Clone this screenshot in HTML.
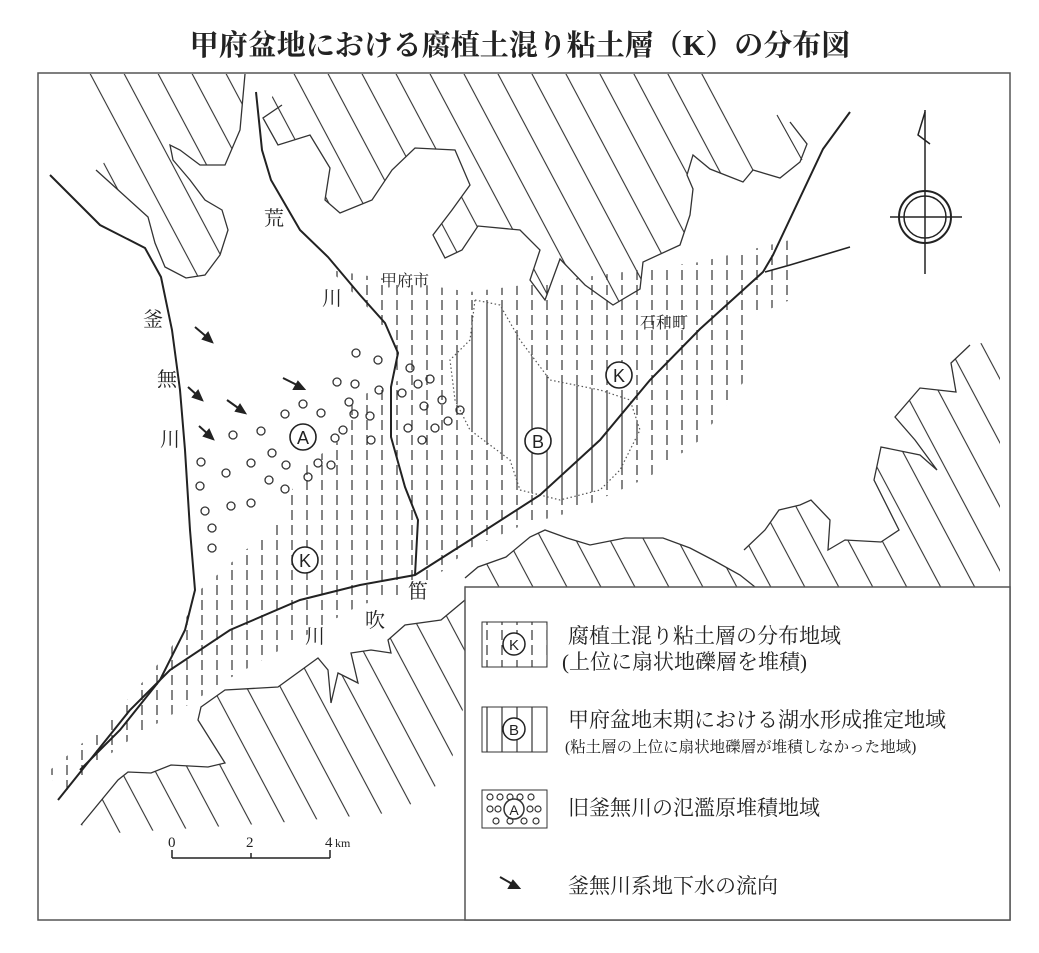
<!DOCTYPE html>
<html><head><meta charset="utf-8"><style>
body{margin:0;background:#fff;}
svg{display:block}
text{font-family:"Liberation Serif","Noto Serif CJK SC",serif;fill:#222}
</style></head><body>
<svg width="1039" height="953" viewBox="0 0 1039 953" xmlns="http://www.w3.org/2000/svg">
<defs>
<pattern id="diag" patternUnits="userSpaceOnUse" width="30" height="60" patternTransform="rotate(-28)">
<line x1="15" y1="0" x2="15" y2="60" stroke="#333" stroke-width="1.1"/></pattern>
<pattern id="dash" patternUnits="userSpaceOnUse" width="15" height="15">
<line x1="7" y1="0" x2="7" y2="10" stroke="#333" stroke-width="1.2"/></pattern>
<pattern id="vert" patternUnits="userSpaceOnUse" width="15" height="15">
<line x1="7" y1="0" x2="7" y2="15" stroke="#333" stroke-width="1.2"/></pattern>
</defs>
<rect width="1039" height="953" fill="#fff"/>
<text x="520" y="55" text-anchor="middle" font-size="29" font-weight="bold">甲府盆地における腐植土混り粘土層（K）の分布図</text>
<rect x="38" y="73" width="972" height="847" fill="none" stroke="#555" stroke-width="1.5"/>

<!-- top-left mountains -->
<path d="M78,74 L245,74 L240,130 L225,165 L200,165 L180,150 L170,145 L173,160 L190,180 L205,200 L222,210 L228,230 L220,255 L205,275 L186,278 L165,267 L155,243 L148,217 L96,170 L118,150 Z" fill="url(#diag)"/>
<path d="M245,74 L240,130 L225,165 L200,165 L180,150 L170,145 L173,160 L190,180 L205,200 L222,210 L228,230 L220,255 L205,275 L186,278 L165,267 L155,243 L148,217 L96,170" fill="none" stroke="#333" stroke-width="1.3"/>
<!-- top middle mountains -->
<path d="M282,74 L722,74 L770,162 L753,170 L743,182 L710,169 L693,155 L687,175 L693,189 L690,215 L680,245 L643,262 L640,289 L613,305 L585,285 L560,259 L545,300 L530,280 L540,250 L520,230 L478,226 L462,250 L445,258 L433,235 L452,210 L470,185 L455,150 L415,148 L392,170 L372,200 L340,213 L325,200 L330,168 L310,135 L278,145 L263,118 Z" fill="url(#diag)"/>
<path d="M790,122 L807,144 L800,162 L780,178 L753,170 L743,182 L710,169 L693,155 L687,175 L693,189 L690,215 L680,245 L643,262 L640,289 L613,305 L585,285 L560,259 L545,300 L530,280 L540,250 L520,230 L478,226 L462,250 L445,258 L433,235 L452,210 L470,185 L455,150 L415,148 L392,170 L372,200 L340,213 L325,200 L330,168 L310,135 L278,145 L263,118 L282,105" fill="none" stroke="#333" stroke-width="1.3"/>
<line x1="777" y1="115" x2="802" y2="160" stroke="#333" stroke-width="1.1"/>

<!-- bottom-left mountain -->
<path d="M81,825 L118,780 L128,772 L151,773 L171,765 L208,767 L225,763 L198,720 L201,707 L225,690 L278,687 L318,658 L328,670 L331,703 L338,673 L358,683 L351,653 L371,650 L391,653 L388,640 L405,625 L441,620 L465,600 L465,700 L448,777 L400,812 L275,823 L115,833 Z" fill="url(#diag)"/>
<path d="M81,825 L118,780 L128,772 L151,773 L171,765 L208,767 L225,763 L198,720 L201,707 L225,690 L278,687 L318,658 L328,670 L331,703 L338,673 L358,683 L351,653 L371,650 L391,653 L388,640 L405,625 L441,620 L465,600" fill="none" stroke="#333" stroke-width="1.3"/>
<!-- bottom-middle -->
<path d="M465,578 L478,567 L506,557 L530,537 L545,530 L567,538 L590,545 L625,538 L663,538 L690,548 L713,560 L740,575 L755,587 L465,587 Z" fill="url(#diag)"/>
<path d="M465,578 L478,567 L506,557 L530,537 L545,530 L567,538 L590,545 L625,538 L663,538 L690,548 L713,560 L740,575 L755,587" fill="none" stroke="#333" stroke-width="1.3"/>
<!-- right -->
<path d="M744,550 L765,530 L779,510 L800,505 L811,500 L830,520 L828,550 L845,540 L881,542 L899,530 L874,480 L881,447 L920,455 L937,470 L915,440 L895,417 L920,388 L956,392 L951,363 L970,345 L1000,340 L1000,587 L760,587 Z" fill="url(#diag)"/>
<path d="M744,550 L765,530 L779,510 L800,505 L811,500 L830,520 L828,550 L845,540 L881,542 L899,530 L874,480 L881,447 L920,455 L937,470 L915,440 L895,417 L920,388 L956,392 L951,363 L970,345" fill="none" stroke="#333" stroke-width="1.3"/>

<!-- K dashed region -->
<path d="M330,270 L470,292 L700,262 L790,240 L790,300 L745,320 L745,380 L700,440 L649,477 L572,512 L523,525 L470,548 L420,590 L360,605 L223,682 L191,703 L125,743 L93,767 L58,800 L50,770 L110,720 L170,650 L200,590 L280,520 L300,470 L340,440 L350,400 L400,380 L380,320 Z" fill="url(#dash)"/>
<!-- B region -->
<path d="M475,300 L500,305 L520,340 L550,380 L600,390 L630,400 L640,430 L620,470 L600,490 L560,500 L520,490 L510,460 L470,430 L455,400 L450,360 L470,340 Z" fill="#fff"/>
<path d="M475,300 L500,305 L520,340 L550,380 L600,390 L630,400 L640,430 L620,470 L600,490 L560,500 L520,490 L510,460 L470,430 L455,400 L450,360 L470,340 Z" fill="url(#vert)" stroke="#555" stroke-dasharray="1.5,2.5" stroke-width="1.2"/>

<!-- rivers -->
<path d="M50,175 L100,225 L145,248 L161,277 L172,330 L180,390 L185,450 L190,530 L195,590 L185,630 L160,680 L120,730 L80,770" fill="none" stroke="#222" stroke-width="2"/>
<path d="M256,92 L262,150 L271,180 L300,230 L328,257 L360,295 L385,323 L398,353 L391,387 L391,437 L405,487 L418,520 L415,575" fill="none" stroke="#222" stroke-width="2"/>
<path d="M58,800 L90,760 L130,710 L170,670 L230,630 L300,600 L360,585 L415,575 L470,540 L540,495 L600,440 L650,380 L700,329 L763,272 L773,255 L823,149 L850,112" fill="none" stroke="#222" stroke-width="2"/>
<path d="M765,272 L790,265 L850,247" fill="none" stroke="#222" stroke-width="1.6"/>

<!-- circles -->
<g fill="none" stroke="#333" stroke-width="1.3">
<circle cx="356" cy="353" r="4"/><circle cx="378" cy="360" r="4"/><circle cx="410" cy="368" r="4"/><circle cx="430" cy="379" r="4"/><circle cx="418" cy="384" r="4"/><circle cx="337" cy="382" r="4"/><circle cx="355" cy="384" r="4"/><circle cx="379" cy="390" r="4"/><circle cx="402" cy="393" r="4"/><circle cx="442" cy="400" r="4"/><circle cx="349" cy="402" r="4"/><circle cx="424" cy="406" r="4"/><circle cx="460" cy="410" r="4"/><circle cx="303" cy="404" r="4"/><circle cx="285" cy="414" r="4"/><circle cx="321" cy="413" r="4"/><circle cx="354" cy="414" r="4"/><circle cx="370" cy="416" r="4"/><circle cx="448" cy="421" r="4"/><circle cx="408" cy="428" r="4"/><circle cx="435" cy="428" r="4"/><circle cx="343" cy="430" r="4"/><circle cx="335" cy="438" r="4"/><circle cx="371" cy="440" r="4"/><circle cx="422" cy="440" r="4"/><circle cx="233" cy="435" r="4"/><circle cx="261" cy="431" r="4"/><circle cx="272" cy="453" r="4"/><circle cx="318" cy="463" r="4"/><circle cx="331" cy="465" r="4"/><circle cx="286" cy="465" r="4"/><circle cx="251" cy="463" r="4"/><circle cx="201" cy="462" r="4"/><circle cx="226" cy="473" r="4"/><circle cx="308" cy="477" r="4"/><circle cx="269" cy="480" r="4"/><circle cx="200" cy="486" r="4"/><circle cx="285" cy="489" r="4"/><circle cx="205" cy="511" r="4"/><circle cx="231" cy="506" r="4"/><circle cx="251" cy="503" r="4"/><circle cx="212" cy="528" r="4"/><circle cx="212" cy="548" r="4"/>
</g>

<!-- arrows -->
<g stroke="#222" stroke-width="2" fill="#222">
<line x1="195" y1="327" x2="208" y2="338"/><polygon points="212,342 203,339 208,333"/>
<line x1="283" y1="378" x2="299" y2="386"/><polygon points="304,389 294,389 298,382"/>
<line x1="188" y1="387" x2="198" y2="396"/><polygon points="202,400 193,397 198,391"/>
<line x1="227" y1="400" x2="241" y2="410"/><polygon points="245,413 236,411 240,405"/>
<line x1="199" y1="426" x2="209" y2="435"/><polygon points="213,439 204,436 209,430"/>
</g>

<!-- labels circled -->
<g fill="#fff" stroke="#222" stroke-width="1.6">
<circle cx="303" cy="437" r="13"/><circle cx="305" cy="560" r="13"/><circle cx="538" cy="441" r="13"/><circle cx="619" cy="375" r="13"/>
</g>
<g font-size="18" text-anchor="middle">
<text x="303" y="444" style="font-family:'Liberation Sans',sans-serif">A</text>
<text x="305" y="567" style="font-family:'Liberation Sans',sans-serif">K</text>
<text x="538" y="448" style="font-family:'Liberation Sans',sans-serif">B</text>
<text x="619" y="382" style="font-family:'Liberation Sans',sans-serif">K</text>
</g>

<g font-size="20">
<text x="264" y="225">荒</text><text x="322" y="305">川</text>
<text x="143" y="326">釜</text><text x="157" y="386">無</text><text x="160" y="446">川</text>
<text x="408" y="598">笛</text><text x="365" y="627">吹</text><text x="305" y="643">川</text>
</g>
<text x="381" y="286" font-size="16">甲府市</text>
<text x="640" y="328" font-size="16">石和町</text>

<!-- compass -->
<g stroke="#222" fill="none">
<circle cx="925" cy="217" r="26" stroke-width="2"/><circle cx="925" cy="217" r="21" stroke-width="1.5"/>
<line x1="890" y1="217" x2="962" y2="217" stroke-width="1.5"/>
<line x1="925" y1="110" x2="925" y2="274" stroke-width="1.5"/>
<polyline points="925,112 918,135 930,144" stroke-width="1.5"/>
</g>

<!-- scale -->
<g stroke="#222" stroke-width="1.5"><line x1="172" y1="858" x2="330" y2="858"/><line x1="172" y1="850" x2="172" y2="858"/><line x1="251" y1="853" x2="251" y2="858"/><line x1="330" y1="850" x2="330" y2="858"/></g>
<g font-size="15"><text x="168" y="847">0</text><text x="246" y="847">2</text><text x="325" y="847">4</text><text x="335" y="847" font-size="12">km</text></g>

<!-- legend -->
<rect x="465" y="587" width="545" height="333" fill="#fff" stroke="#555" stroke-width="1.5"/>
<rect x="482" y="622" width="65" height="45" fill="url(#dash)" stroke="#333"/>
<circle cx="514" cy="644" r="11" fill="#fff" stroke="#222" stroke-width="1.5"/><text x="514" y="650" text-anchor="middle" font-size="15" style="font-family:'Liberation Sans',sans-serif">K</text>
<rect x="482" y="707" width="65" height="45" fill="url(#vert)" stroke="#333"/>
<circle cx="514" cy="729" r="11" fill="#fff" stroke="#222" stroke-width="1.5"/><text x="514" y="735" text-anchor="middle" font-size="15" style="font-family:'Liberation Sans',sans-serif">B</text>
<rect x="482" y="790" width="65" height="38" fill="#fff" stroke="#333"/>
<g fill="none" stroke="#333" stroke-width="1.2">
<circle cx="490" cy="797" r="3"/><circle cx="500" cy="797" r="3"/><circle cx="510" cy="797" r="3"/><circle cx="520" cy="797" r="3"/><circle cx="531" cy="797" r="3"/>
<circle cx="490" cy="809" r="3"/><circle cx="498" cy="809" r="3"/><circle cx="530" cy="809" r="3"/><circle cx="538" cy="809" r="3"/>
<circle cx="496" cy="821" r="3"/><circle cx="510" cy="821" r="3"/><circle cx="524" cy="821" r="3"/><circle cx="536" cy="821" r="3"/>
<circle cx="514" cy="809" r="10" stroke-width="1.5"/></g>
<text x="514" y="815" text-anchor="middle" font-size="14" style="font-family:'Liberation Sans',sans-serif">A</text>
<g stroke="#222" stroke-width="2" fill="#222"><line x1="500" y1="877" x2="514" y2="885"/><polygon points="519,888 509,888 513,881"/></g>
<g font-size="21">
<text x="568" y="643">腐植土混り粘土層の分布地域</text>
<text x="562" y="669">(上位に扇状地礫層を堆積)</text>
<text x="568" y="727">甲府盆地末期における湖水形成推定地域</text>
<text x="565" y="752" font-size="15.5">(粘土層の上位に扇状地礫層が堆積しなかった地域)</text>
<text x="568" y="815">旧釜無川の氾濫原堆積地域</text>
<text x="568" y="893">釜無川系地下水の流向</text>
</g>
</svg>
</body></html>
